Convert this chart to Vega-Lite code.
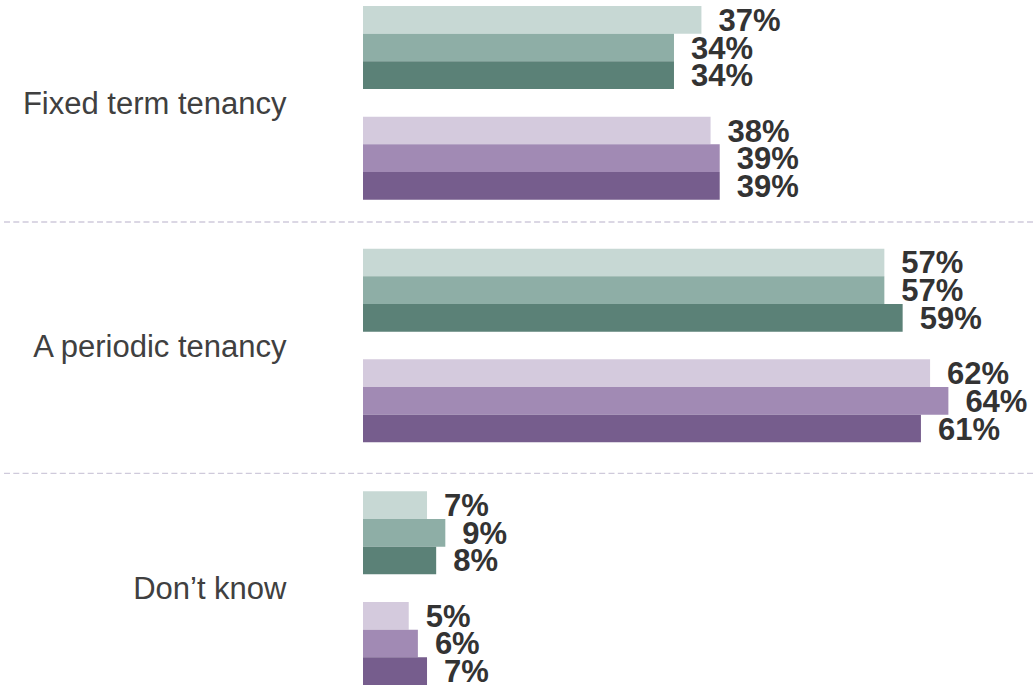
{
  "$schema": "https://vega.github.io/schema/vega-lite/v6.json",
  "autosize": {"type": "none"},
  "width": 672,
  "height": 679,
  "padding": {"left": 363, "top": 6, "right": 0, "bottom": 2},
  "background": "white",
  "config": {"view": {"stroke": null}, "font": "Liberation Sans"},
  "data": {
    "values": [
      {"category": "Fixed term tenancy", "series": "A1", "value": 0.37},
      {"category": "Fixed term tenancy", "series": "A2", "value": 0.34},
      {"category": "Fixed term tenancy", "series": "A3", "value": 0.34},
      {"category": "Fixed term tenancy", "series": "B1", "value": 0.38},
      {"category": "Fixed term tenancy", "series": "B2", "value": 0.39},
      {"category": "Fixed term tenancy", "series": "B3", "value": 0.39},
      {"category": "A periodic tenancy", "series": "A1", "value": 0.57},
      {"category": "A periodic tenancy", "series": "A2", "value": 0.57},
      {"category": "A periodic tenancy", "series": "A3", "value": 0.59},
      {"category": "A periodic tenancy", "series": "B1", "value": 0.62},
      {"category": "A periodic tenancy", "series": "B2", "value": 0.64},
      {"category": "A periodic tenancy", "series": "B3", "value": 0.61},
      {"category": "Don’t know", "series": "A1", "value": 0.07},
      {"category": "Don’t know", "series": "A2", "value": 0.09},
      {"category": "Don’t know", "series": "A3", "value": 0.08},
      {"category": "Don’t know", "series": "B1", "value": 0.05},
      {"category": "Don’t know", "series": "B2", "value": 0.06},
      {"category": "Don’t know", "series": "B3", "value": 0.07}
    ]
  },
  "encoding": {
    "y": {
      "field": "category",
      "type": "nominal",
      "sort": ["Fixed term tenancy", "A periodic tenancy", "Don’t know"],
      "scale": {
        "domain": ["Fixed term tenancy", "A periodic tenancy", "Don’t know"],
        "paddingInner": 0.2017,
        "paddingOuter": 0
      },
      "axis": {
        "title": null,
        "ticks": false,
        "domain": false,
        "labelPadding": 77,
        "labelOffset": 2,
        "labelFontSize": 31,
        "labelColor": "#404040",
        "labelFont": "Liberation Sans",
        "labelLimit": 400
      }
    }
  },
  "layer": [
    {
      "mark": {"type": "bar"},
      "encoding": {
        "x": {"field": "value", "type": "quantitative", "scale": {"domain": [0, 0.7347], "nice": false}, "axis": null},
        "yOffset": {"field": "series", "type": "nominal", "scale": {"domain": ["A1", "A2", "A3", "gap", "B1", "B2", "B3"], "paddingInner": 0, "paddingOuter": 0}},
        "color": {
          "field": "series",
          "type": "nominal",
          "scale": {"domain": ["A1", "A2", "A3", "B1", "B2", "B3"], "range": ["#c7d8d4", "#8eaea6", "#5b8177", "#d4cadd", "#a18ab4", "#765d8d"]},
          "legend": null
        }
      }
    },
    {
      "mark": {"type": "text", "align": "left", "baseline": "middle", "dx": 17, "dy": 2, "fontSize": 31, "fontWeight": "bold", "color": "#333333", "font": "Liberation Sans"},
      "encoding": {
        "x": {"field": "value", "type": "quantitative"},
        "yOffset": {"field": "series", "type": "nominal"},
        "text": {"field": "value", "type": "quantitative", "format": ".0%"}
      }
    },
    {
      "data": {"values": [{"category": "Fixed term tenancy"}]},
      "mark": {"type": "rule", "color": "#cfcadb", "strokeWidth": 1.3, "strokeDash": [6, 3.3]},
      "encoding": {
        "y": {"field": "category", "type": "nominal", "bandPosition": 1.115},
        "x": {"datum": -0.3925},
        "x2": {"datum": 0.7347}
      }
    },
    {
      "data": {"values": [{"category": "A periodic tenancy"}]},
      "mark": {"type": "rule", "color": "#cfcadb", "strokeWidth": 1.3, "strokeDash": [6, 3.3]},
      "encoding": {
        "y": {"field": "category", "type": "nominal", "bandPosition": 1.16},
        "x": {"datum": -0.3925},
        "x2": {"datum": 0.7347}
      }
    }
  ]
}
